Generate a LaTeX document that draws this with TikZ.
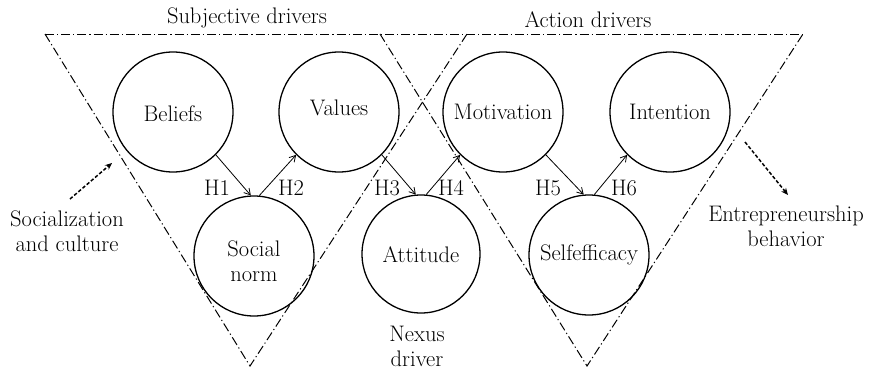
\documentclass[tikz,border=0pt]{standalone}
\usetikzlibrary{arrows.meta}
\begin{document}
\begin{tikzpicture}[x=1pt,y=-1pt,
  every node/.style={font=\fontsize{22.5}{25}\selectfont, inner sep=0pt},
  drv/.style={circle, draw, line width=1.3pt, minimum size=120pt},
  tri/.style={line width=1pt, dash pattern=on 9pt off 3pt on 1.2pt off 3pt},
  hyp/.style={line width=0.8pt, -{Straight Barb[length=6pt,width=7pt]}},
  ext/.style={line width=1.5pt, dash pattern=on 3.5pt off 2pt, -{Stealth[length=7pt,width=6pt]}},
  lbl/.style={align=center}]
\useasboundingbox (0,0) rectangle (869,370);
% triangles
\coordinate (t1l) at (45,34);
\coordinate (t1r) at (467,34);
\coordinate (t1b) at (250,366);
\coordinate (t2l) at (380,34);
\coordinate (t2r) at (803,34);
\coordinate (t2b) at (587,366);
\draw[tri] (t1l) -- (t2r);
\draw[tri] (t1l) -- (t1b) -- (t1r);
\draw[tri] (t2l) -- (t2b) -- (t2r);
% circles
\node[drv] (bel) at (173,112) {};
\node at (173,114) {Beliefs};
\node[drv] (val) at (339,112) {};
\node at (339,108) {Values};
\node[drv] (mot) at (503,112) {};
\node at (503,112) {Motivation};
\node[drv] (int) at (670,112) {};
\node at (670,112) {Intention};
\node[drv] (soc) at (254,256) {};
\node[lbl] at (254,261) {Social\\norm};
\node[drv, minimum size=118pt] (att) at (421,254) {};
\node at (421,255) {Attitude};
\node[drv] (sel) at (589,255) {};
\node at (589,255) {Selfefficacy};
% hypotheses
\draw[hyp] (bel.-45) -- (soc.93);
\draw[hyp] (soc.85) -- (val.-135);
\draw[hyp] (val.-45) -- (att.95);
\draw[hyp] (att.85) -- (mot.-135);
\draw[hyp] (mot.-45) -- (sel.95);
\draw[hyp] (sel.85) -- (int.-135);
\node (h1) at (217,188) {H1};
\node (h2) at (291,188) {H2};
\node (h3) at (387,188) {H3};
\node (h4) at (451,188) {H4};
\node (h5) at (548,188) {H5};
\node (h6) at (624,188) {H6};
% titles
\node (sd) at (247,18) {Subjective drivers};
\node (ad) at (588,20) {Action drivers};
\node[lbl] (nx) at (417,346) {Nexus\\driver};
\node[lbl] (sc) at (67,231) {Socialization\\and culture};
\node[lbl] (eb) at (786,226) {Entrepreneurship\\behavior};
\coordinate (scs) at (70,199);
\coordinate (sce) at (112,163);
\coordinate (ebs) at (745,142);
\coordinate (ebe) at (788,195);
\draw[ext] (scs) -- (sce);
\draw[ext] (ebs) -- (ebe);
\end{tikzpicture}
\end{document}
